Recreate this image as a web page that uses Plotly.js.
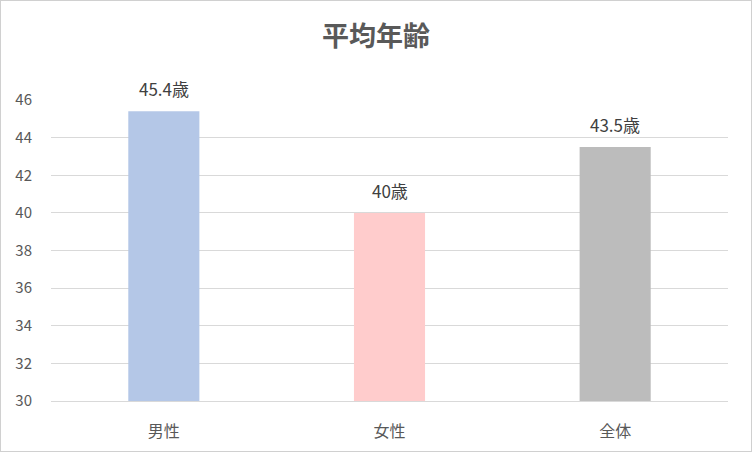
<!DOCTYPE html>
<html>
<head>
<meta charset="utf-8">
<script src="https://cdn.plot.ly/plotly-3.0.1.min.js"></script>
<style>
    html, body { margin: 0; padding: 0; background: #fff; }
    #frame {
        width: 752px; height: 452px; box-sizing: border-box;
        border: 1px solid #d0d0d0; overflow: hidden;
    }
</style>
</head>
<body>
<div id="frame"><div id="chart"></div></div>
<script>
// Дані графіка: категорії, значення та кольори стовпців.
const categories = ["男性", "女性", "全体"];
const ages = [45.4, 40, 43.5];
const barColors = ["#b4c7e7", "#ffcccc", "#bcbcbc"];

const font = "'Noto Sans CJK JP', 'Noto Sans', sans-serif";

const trace = {
    type: "bar",
    x: categories,
    y: ages,
    marker: { color: barColors },
    hoverinfo: "none",
};

// Підписи над стовпцями, трохи вище за їх верх.
const labels = categories.map((c, i) => ({
    x: c,
    y: ages[i],
    xref: "x",
    yref: "y",
    text: ages[i] + "歳",
    showarrow: false,
    yanchor: "bottom",
    yshift: 8,
    font: { family: font, size: 17, color: "#404040" },
}));

const layout = {
    width: 750,
    height: 450,
    margin: { l: 50, r: 23, t: 99, b: 50 },
    paper_bgcolor: "#ffffff",
    plot_bgcolor: "#ffffff",
    bargap: 0.685,
    showlegend: false,
    annotations: labels,
    title: {
        text: "<b>平均年齢</b>",
        font: { family: font, size: 27, color: "#595959" },
        x: 0.5,
        xanchor: "center",
        y: 0.922,
        yanchor: "middle",
    },
    xaxis: {
        showgrid: false,
        showline: true,
        linecolor: "#d9d9d9",
        linewidth: 1,
        ticks: "",
        ticklabelstandoff: 16,
        tickfont: { family: font, size: 16, color: "#595959" },
        fixedrange: true,
    },
    yaxis: {
        range: [30, 46],
        dtick: 2,
        tick0: 30,
        showgrid: true,
        gridcolor: "#d9d9d9",
        gridwidth: 1,
        zeroline: false,
        showline: false,
        ticks: "",
        ticklabelstandoff: 18,
        tickfont: { family: font, size: 15, color: "#595959" },
        fixedrange: true,
    },
};

Plotly.newPlot("chart", [trace], layout, { staticPlot: true });
</script>
</body>
</html>
